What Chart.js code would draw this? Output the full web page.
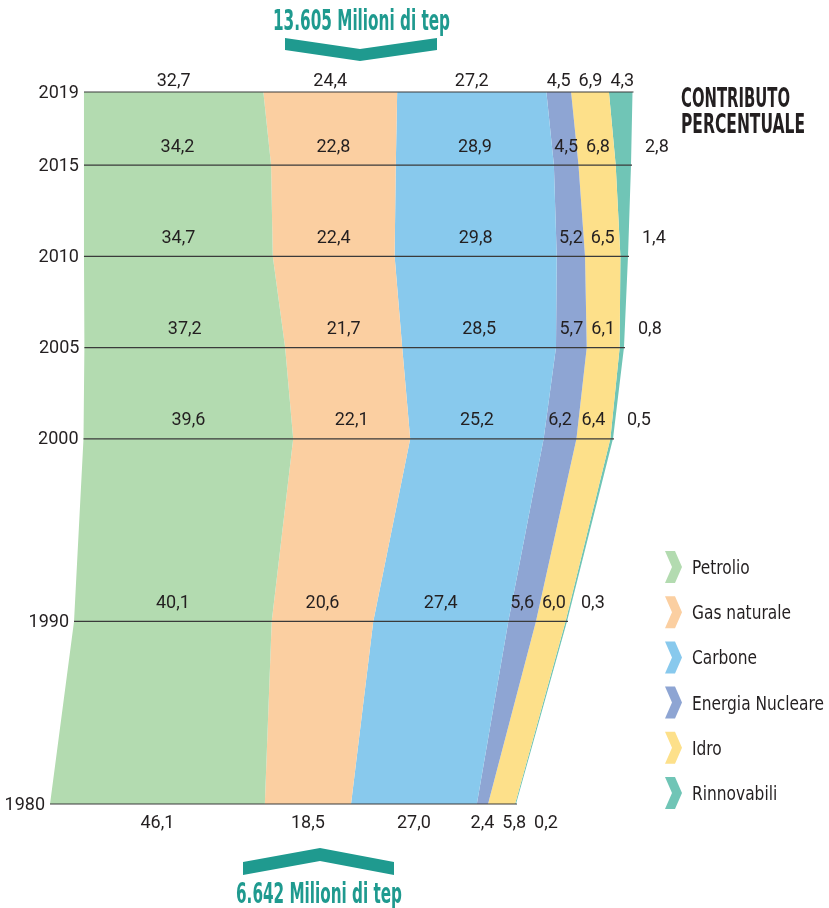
<!DOCTYPE html>
<html>
<head>
<meta charset="utf-8">
<script src="https://cdn.jsdelivr.net/npm/chart.js@4.4.1/dist/chart.umd.min.js"></script>
<style>
  html, body { margin: 0; padding: 0; background: #fff; }
  #wrap { width: 829px; height: 908px; }
</style>
</head>
<body>
<div id="wrap"><canvas id="chart" width="829" height="908"></canvas></div>
<script>
// data (percent share of each source, per year)
const years = [1980, 1990, 2000, 2005, 2010, 2015, 2019];
const petrolio = [46.1, 40.1, 39.6, 37.2, 34.7, 34.2, 32.7];
const gasNaturale = [18.5, 20.6, 22.1, 21.7, 22.4, 22.8, 24.4];
const carbone = [27.0, 27.4, 25.2, 28.5, 29.8, 28.9, 27.2];
const nucleare = [2.4, 5.6, 6.2, 5.7, 5.2, 4.5, 4.5];
const idro = [5.8, 6.0, 6.4, 6.1, 6.5, 6.8, 6.9];
const rinnovabili = [0.2, 0.3, 0.5, 0.8, 1.4, 2.8, 4.3];
const sourceNames = ["Petrolio", "Gas naturale", "Carbone", "Energia Nucleare", "Idro", "Rinnovabili"];
const totalFirst = "6.642 Milioni di tep";
const totalLast = "13.605 Milioni di tep";
const sideTitle = ["CONTRIBUTO", "PERCENTUALE"];

// outline of the funnel on the x axis (0-100 units)
const shapeLeft = [1.67, 5.67, 7.25, 7.4, 7.33, 7.33, 7.33];
const shapeRight = [79.33, 87.83, 95.5, 97.33, 98.0, 98.5, 98.75];

const colors = ["#b3dbb0", "#fbcfa1", "#88c9ed", "#8ea5d3", "#fde08a", "#70c5b6"];
const teal = "#1f9a8f";
const ink = "#231f20";

const series = [petrolio, gasNaturale, carbone, nucleare, idro, rinnovabili];

let datasets = [{
    label: "base",
    data: years.map((y, i) => ({ y: y, x: shapeLeft[i] })),
    borderWidth: 0,
    pointRadius: 0,
    fill: false
}];
series.forEach((s, k) => {
    datasets.push({
        label: sourceNames[k],
        data: s.map((v, i) => ({ y: years[i], x: v * (shapeRight[i] - shapeLeft[i]) / 100 })),
        backgroundColor: colors[k],
        borderWidth: 0,
        pointRadius: 0,
        tension: 0,
        fill: "-1"
    });
});

const fmt = v => v.toFixed(1).replace(".", ",");
const condensed = '"Liberation Sans Narrow", "DejaVu Sans Condensed", sans-serif';

// draw text squeezed to a given width (condensed headline look)
function fitText(ctx, text, x, y, width, font, color) {
    ctx.save();
    ctx.font = font;
    ctx.fillStyle = color;
    ctx.textAlign = "left";
    ctx.textBaseline = "alphabetic";
    const w = ctx.measureText(text).width;
    ctx.translate(x, y);
    ctx.scale(width / w, 1);
    ctx.fillText(text, 0, 0);
    ctx.restore();
}

function chevron(ctx, x, cy, h, t, color) {
    ctx.fillStyle = color;
    ctx.beginPath();
    ctx.moveTo(x, cy - h / 2);
    ctx.lineTo(x + t, cy - h / 2);
    ctx.lineTo(x + t + 7, cy);
    ctx.lineTo(x + t, cy + h / 2);
    ctx.lineTo(x, cy + h / 2);
    ctx.lineTo(x + 7, cy);
    ctx.closePath();
    ctx.fill();
}

const decor = {
    id: "decor",
    afterDatasetsDraw(chart) {
        const ctx = chart.ctx;
        const yScale = chart.scales.y;
        const metas = datasets.map((d, k) => chart.getDatasetMeta(k));
        const last = years.length - 1;

        ctx.save();
        years.forEach((yr, i) => {
            const y = yScale.getPixelForValue(yr);
            const x0 = metas[0].data[i].x;
            const x1 = metas[6].data[i].x;

            // year line
            ctx.strokeStyle = "#3a3a3a";
            ctx.lineWidth = 1.2;
            ctx.beginPath();
            ctx.moveTo(x0, y);
            ctx.lineTo(x1 + 1, y);
            ctx.stroke();

            // year label
            ctx.font = "18px Roboto";
            ctx.fillStyle = ink;
            ctx.textAlign = "right";
            ctx.textBaseline = "middle";
            ctx.fillText(String(yr), x0 - 5, y + 1);

            // percentages
            ctx.font = "18px Roboto";
            ctx.textAlign = "center";
            let ly = y - 18;
            if (i === last) ly = y - 11;
            if (i === 0) ly = y + 19;
            let prevX = -1e9, prevW = 0;
            for (let k = 1; k <= 6; k++) {
                const a = metas[k - 1].data[i].x;
                const b = metas[k].data[i].x;
                const txt = fmt(series[k - 1][i]);
                const w = ctx.measureText(txt).width;
                let cx = (a + b) / 2;
                if (k === 6 && i !== 0 && i !== last) cx = x1 + 14 + w / 2;
                cx = Math.max(cx, prevX + (prevW + w) / 2 + 8);
                ctx.fillText(txt, cx, ly);
                prevX = cx;
                prevW = w;
            }
        });

        // totals with teal chevrons
        ctx.fillStyle = teal;
        ctx.beginPath();
        ctx.moveTo(285, 38); ctx.lineTo(360, 49); ctx.lineTo(437, 38);
        ctx.lineTo(437, 50); ctx.lineTo(360, 61); ctx.lineTo(285, 50);
        ctx.closePath(); ctx.fill();
        ctx.beginPath();
        ctx.moveTo(243, 862); ctx.lineTo(320, 848); ctx.lineTo(394, 862);
        ctx.lineTo(394, 875); ctx.lineTo(320, 861); ctx.lineTo(243, 875);
        ctx.closePath(); ctx.fill();
        fitText(ctx, totalLast, 273, 30, 177, "bold 29px " + condensed, teal);
        fitText(ctx, totalFirst, 236, 903, 166, "bold 29px " + condensed, teal);

        // side title
        fitText(ctx, sideTitle[0], 681, 107, 109, "bold 26px " + condensed, ink);
        fitText(ctx, sideTitle[1], 681, 133, 124, "bold 26px " + condensed, ink);

        // legend, squeezed so the longest name is 132px wide
        ctx.font = "19px " + condensed;
        const squeeze = 132 / ctx.measureText("Energia Nucleare").width;
        sourceNames.forEach((name, k) => {
            const cy = 567 + k * 45.2;
            chevron(ctx, 665, cy, 32, 10, colors[k]);
            ctx.font = "19px " + condensed;
            fitText(ctx, name, 692, cy + 7, ctx.measureText(name).width * squeeze, "19px " + condensed, ink);
        });
        ctx.restore();
    }
};

const energyChart = new Chart(document.getElementById("chart"), {
    type: "line",
    data: { datasets: datasets },
    options: {
        responsive: false,
        animation: false,
        indexAxis: "y",
        layout: { padding: { left: 40, right: 189, top: 92, bottom: 104 } },
        scales: {
            x: { type: "linear", min: 0, max: 100, stacked: true, display: false },
            y: { type: "linear", min: 1980, max: 2019, display: false }
        },
        plugins: {
            legend: { display: false },
            tooltip: { enabled: false }
        }
    },
    plugins: [decor]
});
</script>
</body>
</html>
